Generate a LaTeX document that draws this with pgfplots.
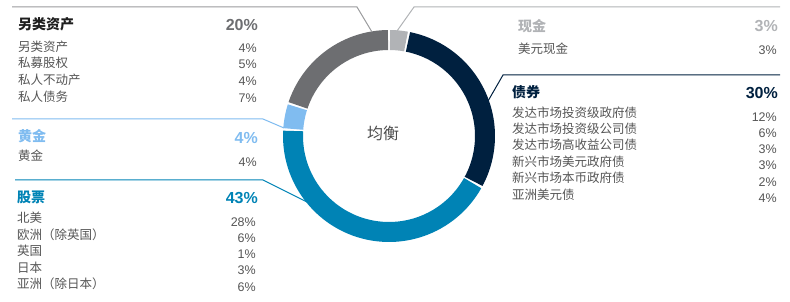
\documentclass[border=0pt]{standalone}
\usepackage{pgfplots}
\pgfplotsset{compat=1.18}
\usepackage{fontspec}
\setmainfont{Liberation Sans}
\newfontfamily\cjk{Noto Sans CJK SC}
\definecolor{cAlt}{HTML}{6D6E71}
\definecolor{cCash}{HTML}{B1B3B6}
\definecolor{cBond}{HTML}{00203F}
\definecolor{cEq}{HTML}{0083B5}
\definecolor{cGold}{HTML}{80BCF0}
\definecolor{cTxt}{HTML}{555555}
\definecolor{cHead}{HTML}{1E1E1E}
% segment: cumulative start %, cumulative end %, colour
\newcommand{\seg}[3]{%
  \addplot[#3, line width=20pt, domain={90-3.6*#2+0.6}:{90-3.6*#1-0.6}, samples=60]
    ({389+96*cos(x)},{136-96*sin(x)});
}
\tikzset{
  lab/.style={anchor=west, inner sep=0pt, font=\cjk\fontsize{12.5}{12.5}\selectfont, text=cTxt},
  pct/.style={anchor=east, inner sep=0pt, font=\fontsize{12.5}{12.5}\selectfont, text=cTxt},
  head/.style={anchor=west, inner sep=0pt, font=\cjk\bfseries\fontsize{14}{14}\selectfont},
  hpct/.style={anchor=east, inner sep=0pt, font=\bfseries\fontsize{16}{16}\selectfont},
}
\begin{document}
\begin{tikzpicture}
\begin{axis}[
  scale only axis, width=790pt, height=302pt,
  xmin=0, xmax=790, ymin=0, ymax=302, y dir=reverse,
  hide axis, clip=false]
% donut: 现金 3, 债券 30, 股票 43, 黄金 4, 另类资产 20
\seg{0}{3}{cCash}
\seg{3}{33}{cBond}
\seg{33}{76}{cEq}
\seg{76}{80}{cGold}
\seg{80}{100}{cAlt}
\path (0,0) (790,302);
\node[font=\cjk\fontsize{16}{16}\selectfont, text=cTxt!90!black] at (383,133) {均衡};
% callout lines
\draw[cAlt!70, line width=1pt] (12,7) -- (357,7) -- (372,32);
\draw[cGold, line width=1pt] (12,119) -- (263,119) -- (284,128);
\draw[cEq, line width=1pt] (15,180) -- (263,180) -- (307,202);
\draw[cCash, line width=1pt] (397,31) -- (414,7) -- (780,7);
\draw[cBond, line width=1pt] (484,108) -- (503,75) -- (780,75);
% 另类资产
\node[head, text=cHead] at (18,24) {另类资产};
\node[hpct, text=cAlt] at (258,25) {20\%};
\node[lab] at (18,47) {另类资产}; \node[pct] at (257,48) {4\%};
\node[lab] at (18,63) {私募股权}; \node[pct] at (257,64) {5\%};
\node[lab] at (18,80) {私人不动产}; \node[pct] at (257,81) {4\%};
\node[lab] at (18,97) {私人债务}; \node[pct] at (257,98) {7\%};
% 黄金
\node[head, text=cGold] at (18,136) {黄金};
\node[hpct, text=cGold] at (258,138) {4\%};
\node[lab] at (18,156) {黄金}; \node[pct] at (257,162) {4\%};
% 股票
\node[head, text=cEq] at (17,197) {股票};
\node[hpct, text=cEq] at (258,198) {43\%};
\node[lab] at (17,218) {北美}; \node[pct] at (256,222) {28\%};
\node[lab] at (17,235) {欧洲（除英国）}; \node[pct] at (256,238) {6\%};
\node[lab] at (17,251) {英国}; \node[pct] at (256,254) {1\%};
\node[lab] at (17,268) {日本}; \node[pct] at (256,270) {3\%};
\node[lab] at (17,284) {亚洲（除日本）}; \node[pct] at (256,287) {6\%};
% 现金
\node[head, text=cCash] at (518,26) {现金};
\node[hpct, text=cCash] at (778,26) {3\%};
\node[lab] at (518,49) {美元现金}; \node[pct] at (777,50) {3\%};
% 债券
\node[head, text=cBond] at (512,92) {债券};
\node[hpct, text=cBond] at (778,93) {30\%};
\node[lab] at (512,113) {发达市场投资级政府债}; \node[pct] at (777,117) {12\%};
\node[lab] at (512,129) {发达市场投资级公司债}; \node[pct] at (777,133) {6\%};
\node[lab] at (512,145) {发达市场高收益公司债}; \node[pct] at (777,149) {3\%};
\node[lab] at (512,162) {新兴市场美元政府债}; \node[pct] at (777,165) {3\%};
\node[lab] at (512,178) {新兴市场本币政府债}; \node[pct] at (777,182) {2\%};
\node[lab] at (512,195) {亚洲美元债}; \node[pct] at (777,198) {4\%};
\end{axis}
\end{tikzpicture}
\end{document}
